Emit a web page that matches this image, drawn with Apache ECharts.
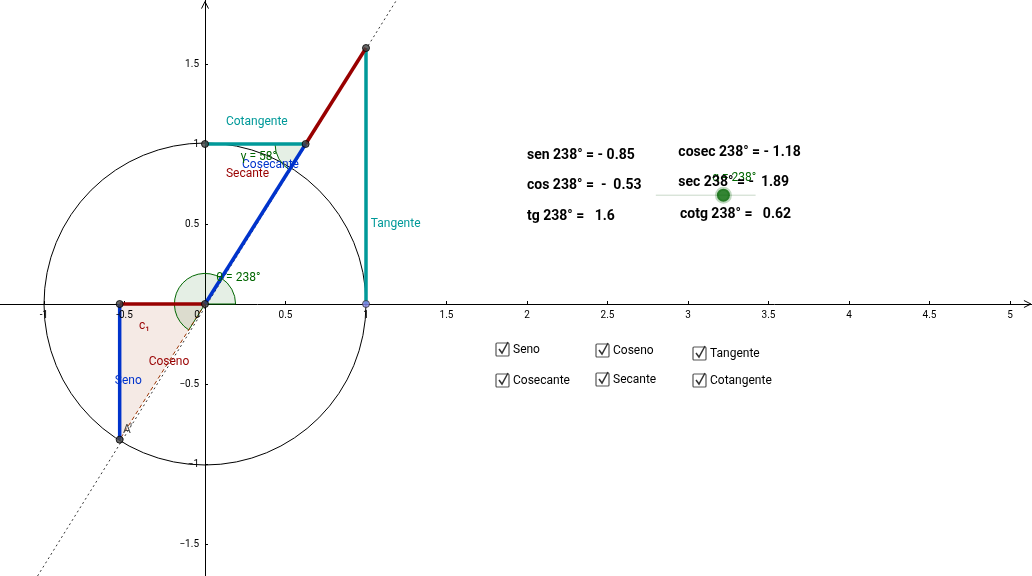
<!DOCTYPE html>
<html><head><meta charset="utf-8">
<script src="https://cdn.jsdelivr.net/npm/echarts@6/dist/echarts.min.js"></script>
<style>html,body{margin:0;padding:0;background:#fff}#c{width:1032px;height:576px}</style>
</head><body><div id="c"></div>
<script>
var angleDeg = 238;
var pointA = [-0.53, -0.848];
var footA = [-0.53, 0];
var origin = [0, 0];
var tanTop = [1, 1.6];
var tanBase = [1, 0];
var cotEnd = [0.625, 1];
var cotStart = [0, 1];
var rayLine = [[-1.04, -1.7], [1.19, 1.9]];
var xTicks = [-1, -0.5, 0, 0.5, 1, 1.5, 2, 2.5, 3, 3.5, 4, 4.5, 5];
var yTicks = [-1.5, -1, -0.5, 0.5, 1, 1.5];
var axisEnds = [[5.13, 0, 0], [0, 1.89, 90]];
var formulas = [
  [2.0, 0.93, 'sen 238° = - 0.85'], [2.0, 0.74, 'cos 238° =  -  0.53'], [2.0, 0.55, 'tg 238° =   1.6'],
  [2.94, 0.95, 'cosec 238° = - 1.18'], [2.94, 0.76, 'sec 238° = -  1.89'], [2.95, 0.56, 'cotg 238° =   0.62']
];
var labels = [
  [0.13, 1.14, 'Cotangente', '#009999'], [1.03, 0.5, 'Tangente', '#009999'],
  [0.13, 0.81, 'Secante', '#990000'], [0.23, 0.87, 'Cosecante', '#0033cc'],
  [0.22, 0.92, 'γ = 58°', '#006600'], [0.07, 0.16, 'θ = 238°', '#006600'],
  [-0.56, -0.48, 'Seno', '#0033cc'], [-0.35, -0.36, 'Coseno', '#990000'],
  [-0.41, -0.14, 'c₁', '#990000'], [-0.51, -0.79, "A'", '#444'], [3.15, 0.79, 'α = 238°', '#006600']
];
var checks = [['Seno', 496, 350], ['Coseno', 596, 351], ['Tangente', 693, 354],
  ['Cosecante', 496, 381], ['Secante', 596, 380], ['Cotangente', 693, 381]];
var sliderLine = [[2.8, 0.68], [3.42, 0.68]];
var sliderVal = [3.22, 0.68];
var dots = [cotStart, cotEnd, tanTop, footA, origin, pointA];

var myChart = echarts.init(document.getElementById('c'));
function seg(pts, color, w, type) {
  return {type: 'line', data: pts, symbol: 'none', silent: true, z: 3,
    lineStyle: {color: color, width: w, type: type || 'solid'}};
}
function sector(center, r, a0, a1, z) {
  return {type: 'custom', data: [center], z: z || 2, silent: true,
    renderItem: function (p, api) {
      var c = api.coord([api.value(0), api.value(1)]);
      var rr = api.size([r, 0])[0];
      return {type: 'sector', shape: {cx: c[0], cy: c[1], r: rr, r0: 0,
        startAngle: -a1 * Math.PI / 180, endAngle: -a0 * Math.PI / 180},
        style: {fill: 'rgba(0,100,0,0.1)', stroke: '#006600', lineWidth: 1}};
    }};
}
option = {
  animation: false,
  grid: {left: -36.5, right: -58.5, top: -16, bottom: -48, containLabel: false, outerBoundsMode: 'none'},
  xAxis: {type: 'value', min: -1.5, max: 5.5, interval: 0.5, splitLine: {show: false},
    axisLine: {onZero: true, lineStyle: {color: '#000', width: 1}},
    axisTick: {inside: true, length: 3, lineStyle: {color: '#000'}},
    axisLabel: {show: false}},
  yAxis: {type: 'value', min: -2, max: 2, interval: 0.5, splitLine: {show: false},
    axisLine: {onZero: true, lineStyle: {color: '#000', width: 1}},
    axisTick: {inside: true, length: 3, lineStyle: {color: '#000'}},
    axisLabel: {show: false}},
  series: [
    {type: 'custom', data: [[0, 0]], silent: true, z: 1,
      renderItem: function (p, api) {
        var c = api.coord([0, 0]);
        return {type: 'circle', shape: {cx: c[0], cy: c[1], r: api.size([1, 0])[0]},
          style: {fill: 'none', stroke: '#000', lineWidth: 1}};
      }},
    {type: 'custom', data: [[0]], silent: true, z: 1,
      renderItem: function (p, api) {
        var pts = [origin, footA, pointA].map(function (q) { return api.coord(q); });
        return {type: 'polygon', shape: {points: pts}, style: {fill: 'rgba(153,51,0,0.1)'}};
      }},
    sector(origin, 0.19, 0, angleDeg),
    sector(cotEnd, 0.19, 180, angleDeg),
    seg(rayLine, '#333', 1, [2, 3]),
    seg([origin, pointA], '#993300', 1, [4, 3]),
    seg([footA, pointA], '#0033cc', 3.5),
    seg([origin, footA], '#990000', 3.5),
    seg([tanBase, tanTop], '#009999', 3.5),
    seg([cotEnd, tanTop], '#990000', 3.5),
    seg([cotStart, cotEnd], '#009999', 3.5),
    seg([origin, cotEnd], '#0033cc', 3.5),
    seg(sliderLine, '#c8d8c8', 1),
    {type: 'scatter', data: dots, symbolSize: 7, z: 5, silent: true,
      itemStyle: {color: '#444', borderColor: '#000', borderWidth: 1}},
    {type: 'scatter', data: [tanBase], symbolSize: 7, z: 5, silent: true,
      itemStyle: {color: '#8888ee', borderColor: '#333', borderWidth: 1}},
    {type: 'scatter', data: [sliderVal], symbolSize: 13, z: 6, silent: true,
      itemStyle: {color: '#006600', borderColor: 'rgba(0,100,0,0.3)', borderWidth: 4}},
    {type: 'custom', data: xTicks.map(function (v) { return [v, 0]; }), z: 4, silent: true,
      renderItem: function (p, api) {
        var v = api.value(0), c = api.coord([v, 0]);
        return {type: 'text', x: c[0] + (v === 0 ? -8 : 0), y: c[1] + 11, style: {text: String(v),
          fill: '#000', font: '10px Roboto', align: 'center', verticalAlign: 'middle'}};
      }},
    {type: 'custom', data: yTicks.map(function (v) { return [0, v]; }), z: 4, silent: true,
      renderItem: function (p, api) {
        var v = api.value(1), c = api.coord([0, v]);
        return {type: 'text', x: c[0] - 6, y: c[1], style: {text: String(v).replace('-', '−'),
          fill: '#000', font: '10px Roboto', align: 'right', verticalAlign: 'middle'}};
      }},
    {type: 'custom', data: axisEnds, z: 4, silent: true,
      renderItem: function (p, api) {
        var c = api.coord([api.value(0), api.value(1)]);
        var pts = api.value(2) === 0 ? [[c[0] - 7, c[1] - 3.5], [c[0], c[1]], [c[0] - 7, c[1] + 3.5]]
          : [[c[0] - 3.5, c[1] + 7], [c[0], c[1]], [c[0] + 3.5, c[1] + 7]];
        return {type: 'polyline', shape: {points: pts}, style: {stroke: '#000', lineWidth: 1, fill: 'none'}};
      }},
    {type: 'custom', data: labels, z: 7, silent: true,
      renderItem: function (p, api) {
        var c = api.coord([api.value(0), api.value(1)]);
        var d = labels[p.dataIndex];
        return {type: 'text', x: c[0], y: c[1], style: {text: d[2], fill: d[3],
          font: '12px Roboto', verticalAlign: 'middle'}};
      }},
    {type: 'custom', data: formulas, z: 7, silent: true,
      renderItem: function (p, api) {
        var c = api.coord([api.value(0), api.value(1)]);
        return {type: 'text', x: c[0], y: c[1], style: {text: formulas[p.dataIndex][2], fill: '#000',
          font: 'bold 14px Roboto', verticalAlign: 'middle'}};
      }}
  ],
  graphic: checks.map(function (c) {
    return {type: 'group', x: c[1], y: c[2], children: [
      {type: 'rect', shape: {x: 0, y: -7, width: 13, height: 13, r: 1},
        style: {fill: '#fff', stroke: '#555', lineWidth: 1.2}},
      {type: 'polyline', shape: {points: [[3, -1], [6, 3], [12, -8]]},
        style: {stroke: '#333', lineWidth: 1.5, fill: 'none'}},
      {type: 'text', x: 17, y: 0, style: {text: c[0], font: '12px Roboto', fill: '#000', verticalAlign: 'middle'}}
    ]};
  })
};
myChart.setOption(option, true);
</script></body></html>
